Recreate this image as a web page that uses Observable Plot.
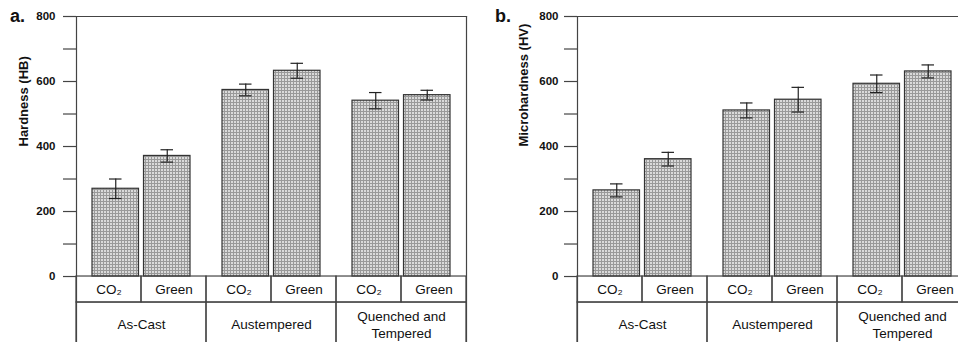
<!DOCTYPE html>
<html>
<head>
<meta charset="utf-8">
<script src="https://cdn.jsdelivr.net/npm/d3@7"></script>
<script src="https://cdn.jsdelivr.net/npm/@observablehq/plot@0.6"></script>
<style>
  html, body { margin: 0; padding: 0; background: #fff; }
  #wrap { position: relative; width: 958px; height: 342px; overflow: hidden; display: flex; font-family: "Liberation Sans", Arial, sans-serif; }
  .letter { position: absolute; font-weight: bold; font-size: 18px; color: #111; }
  svg { display: block; }
</style>
</head>
<body>
<svg width="0" height="0" style="position:absolute">
  <defs>
    <pattern id="grid" patternUnits="userSpaceOnUse" width="3" height="3">
      <rect width="3" height="3" fill="#dadada"></rect>
      <rect width="1" height="3" fill="#999999"></rect>
      <rect width="3" height="1" fill="#999999"></rect>
    </pattern>
  </defs>
</svg>
<div id="wrap"></div>
<script>
// ---- data ----
const groups = ["As-Cast", "Austempered", "Quenched and Tempered"];
const groupLabels = ["As-Cast", "Austempered", "Quenched and\nTempered"];
const treatments = ["CO2", "Green"];
const treatmentLabels = ["CO₂", "Green"];
// order: As-Cast CO2, As-Cast Green, Austempered CO2, Austempered Green, Q&T CO2, Q&T Green
const hardnessHB = [270, 371, 574, 633, 541, 558];
const hardnessHBErr = [30, 19, 18, 23, 25, 15];
const microHV = [265, 361, 511, 544, 593, 631];
const microHVErr = [20, 21, 23, 38, 27, 20];
const yTicks = [0, 200, 400, 600, 800];
const yMinorTicks = [100, 300, 500, 700];

const FONT = "'Liberation Sans', Arial, sans-serif";
const LINE = "#444";

function rowsFor(values, errs) {
  const rows = [];
  groups.forEach((g, gi) => treatments.forEach((t, ti) => {
    const i = gi * treatments.length + ti;
    rows.push({g, t, tl: treatmentLabels[ti], v: values[i], e: errs[i]});
  }));
  return rows;
}

function panel({values, errs, label, marginLeft, width, marginRight, tickPadding, labelOffset}) {
  const rows = rowsFor(values, errs);
  const co2 = rows.filter(d => d.t === "CO2");
  const green = rows.filter(d => d.t === "Green");
  const gdata = groups.map((g, i) => ({g, label: groupLabels[i]}));
  const allTicks = [...yTicks, ...yMinorTicks].sort((a, b) => a - b);
  const barOpts = {fx: "g", x: "t", y: "v", fill: "url(#grid)", stroke: "#333", strokeWidth: 1.2};
  const errOpts = {fx: "g", x: "t", stroke: "#222", strokeWidth: 1.2};
  return Plot.plot({
    width, height: 342, marginLeft, marginRight, marginTop: 16, marginBottom: 0,
    style: {fontFamily: FONT, fontSize: "13px", color: "#111", background: "transparent", overflow: "visible"},
    fx: {domain: groups, padding: 0, axis: null},
    x: {domain: treatments, padding: 0, axis: null},
    y: {domain: [-203, 800], axis: null},
    marks: [
      Plot.barY(co2, {...barOpts, insetLeft: 16, insetRight: 2.5}),
      Plot.barY(green, {...barOpts, insetLeft: 2.5, insetRight: 16}),
      Plot.ruleX(co2, {...errOpts, y1: d => d.v - d.e, y2: d => d.v + d.e, dx: 6.75}),
      Plot.ruleX(green, {...errOpts, y1: d => d.v - d.e, y2: d => d.v + d.e, dx: -6.75}),
      Plot.tickY(co2, {...errOpts, y: d => d.v + d.e, insetLeft: 33, insetRight: 19.5}),
      Plot.tickY(co2, {...errOpts, y: d => d.v - d.e, insetLeft: 33, insetRight: 19.5}),
      Plot.tickY(green, {...errOpts, y: d => d.v + d.e, insetLeft: 19.5, insetRight: 33}),
      Plot.tickY(green, {...errOpts, y: d => d.v - d.e, insetLeft: 19.5, insetRight: 33}),
      // table: treatment row
      Plot.barY(rows, {fx: "g", x: "t", y1: 0, y2: -80, fill: "none", stroke: LINE, strokeWidth: 1.2}),
      Plot.text(rows, {fx: "g", x: "t", y: -40, text: "tl", fontSize: 13.5, fill: "#111"}),
      // table: group row
      Plot.barY(gdata, {fx: "g", y1: -80, y2: -230, fill: "none", stroke: LINE, strokeWidth: 1.2}),
      Plot.text(gdata, {fx: "g", y: -146, text: "label", fontSize: 13.5, lineHeight: 1.25, fill: "#111"}),
      // frame
      Plot.frame({anchor: "top", stroke: LINE, strokeWidth: 1.2}),
      Plot.frame({anchor: "left", facetAnchor: "left", stroke: LINE, strokeWidth: 1.2}),
      Plot.frame({anchor: "right", facetAnchor: "right", stroke: LINE, strokeWidth: 1.2}),
      Plot.axisY({
        ticks: allTicks, tickSize: 13, tickPadding,
        tickFormat: d => yTicks.includes(d) ? String(d) : "",
        fontWeight: "bold", fontSize: 11.5, stroke: LINE, strokeWidth: 1.2, label: null
      }),
      Plot.text([label], {
        frameAnchor: "left", y: () => d3.mean(yTicks), rotate: -90, dx: -labelOffset,
        facetAnchor: "left", fontWeight: "bold", fontSize: 13, fill: "#111"
      })
    ]
  });
}

const wrap = document.getElementById("wrap");
const a = panel({values: hardnessHB, errs: hardnessHBErr, label: "Hardness (HB)",
  marginLeft: 75, width: 480, marginRight: 13, tickPadding: 8, labelOffset: 53});
const b = panel({values: microHV, errs: microHVErr, label: "Microhardness (HV)",
  marginLeft: 96, width: 494, marginRight: 6, tickPadding: 6, labelOffset: 54});
a.style.flex = "none"; b.style.flex = "none";
wrap.appendChild(a);
wrap.appendChild(b);
const la = document.createElement("div");
la.className = "letter"; la.textContent = "a."; la.style.left = "10px"; la.style.top = "6px";
const lb = document.createElement("div");
lb.className = "letter"; lb.textContent = "b."; lb.style.left = "495px"; lb.style.top = "6px";
wrap.appendChild(la); wrap.appendChild(lb);
</script>
</body>
</html>
